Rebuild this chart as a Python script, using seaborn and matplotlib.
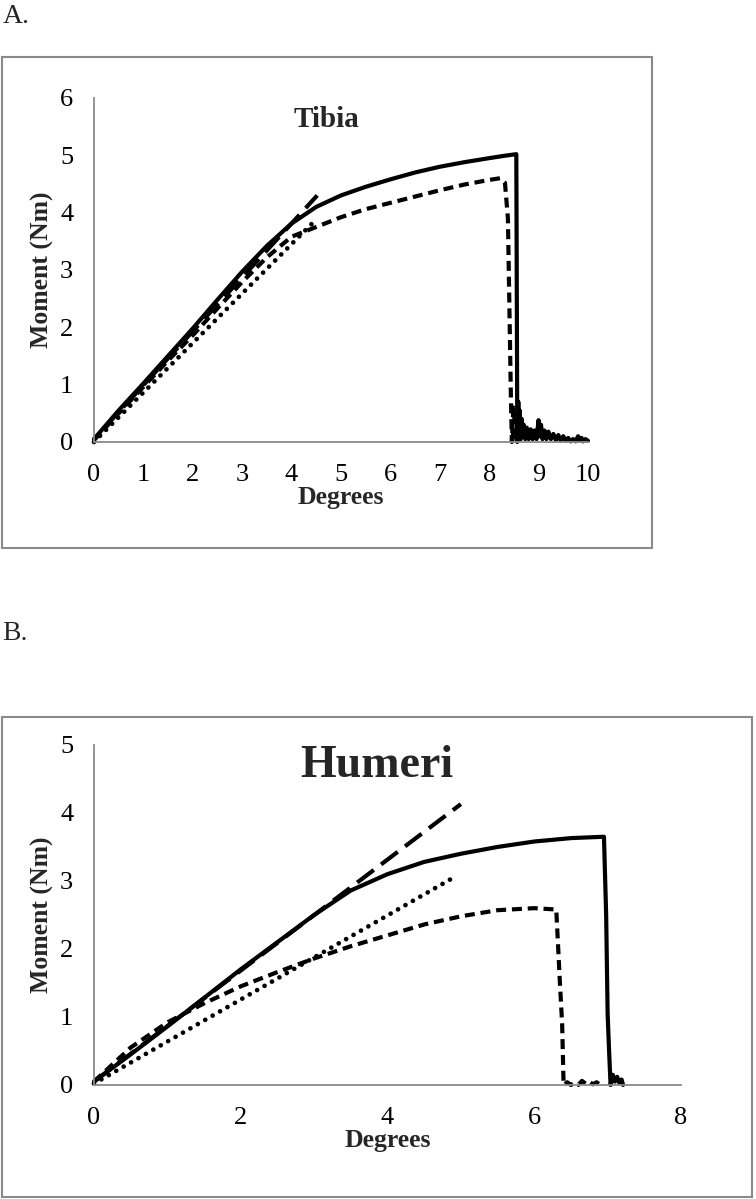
#!/usr/bin/env python3

import numpy as np
import matplotlib as mpl
mpl.use("Agg")
from matplotlib import pyplot as plt
from matplotlib.patches import Rectangle
import seaborn as sns
import pandas as pd

sns.set_theme(style="white")
plt.rcParams['font.family'] = ['Liberation Serif', 'DejaVu Serif']

# ---- Tibia ----
tib_solid_x = [0, 0.5, 1, 1.5, 2, 2.5, 3, 3.5, 4, 4.5, 5, 5.5, 6, 6.5, 7, 7.5, 8, 8.3, 8.55, 8.57,
               8.59, 8.61, 8.62, 8.64, 8.66, 8.68, 8.7, 8.73, 8.76, 8.8, 8.84, 8.88, 8.92, 8.96, 9.0,
               9.02, 9.05, 9.08, 9.12, 9.16, 9.2, 9.25, 9.3, 9.35, 9.4, 9.45, 9.5, 9.55, 9.6, 9.65,
               9.7, 9.75, 9.8, 9.83, 9.87, 9.9, 9.95, 10.0]
tib_solid_y = [0.05, 0.55, 1.02, 1.5, 1.98, 2.48, 2.97, 3.42, 3.81, 4.1, 4.3, 4.45, 4.58, 4.7, 4.8, 4.88, 4.95, 4.99, 5.02, 0.0,
               0.7, 0.1, 0.55, 0.05, 0.4, 0.1, 0.3, 0.05, 0.25, 0.05, 0.22, 0.05, 0.2, 0.05, 0.38,
               0.1, 0.3, 0.05, 0.2, 0.05, 0.18, 0.05, 0.14, 0.03, 0.12, 0.02, 0.1, 0.02, 0.07, 0.01,
               0.05, 0.01, 0.1, 0.02, 0.07, 0.01, 0.05, 0.02]
tib_dash_x = [0, 0.5, 1, 1.5, 2, 2.5, 3, 3.5, 4, 4.5, 5, 5.5, 6, 6.5, 7, 7.5, 8, 8.22, 8.32, 8.38, 8.44, 8.46,
              8.49, 8.52, 8.5, 8.48, 8.5, 8.53, 8.56]
tib_dash_y = [0.03, 0.5, 0.96, 1.42, 1.86, 2.33, 2.79, 3.22, 3.58, 3.75, 3.92, 4.06, 4.17, 4.28, 4.39, 4.49, 4.57, 4.6, 4.52, 3.9, 0.8, 0.0,
              0.6, 0.5, 0.3, 0.1, 0.0, 0.2, 0.0]
tib_fit_x = [0, 4.52]
tib_fit_y = [0.05, 4.3]
tib_dot_x = [0, 4.52]
tib_dot_y = [0.0, 3.9]

# ---- Humeri ----
hum_solid_x = [0, 0.5, 1, 1.5, 2, 2.5, 3, 3.5, 4, 4.5, 5, 5.5, 6, 6.5, 6.95, 6.98, 7.0, 7.02, 7.04,
               7.07, 7.1, 7.13, 7.16, 7.19, 7.21]
hum_solid_y = [0.05, 0.45, 0.86, 1.28, 1.7, 2.1, 2.5, 2.86, 3.1, 3.28, 3.4, 3.5, 3.58, 3.63, 3.65, 2.5, 1.05, 0.5, 0.0,
               0.15, 0.05, 0.12, 0.03, 0.08, 0.0]
hum_dash_x = [0, 0.5, 1, 1.5, 2, 2.5, 3, 3.5, 4, 4.5, 5, 5.5, 6, 6.3, 6.35, 6.38, 6.4,
              6.45, 6.5, 6.55, 6.6, 6.65, 6.7, 6.75, 6.8, 6.85, 6.9, 6.95]
hum_dash_y = [0.05, 0.55, 0.92, 1.2, 1.45, 1.66, 1.86, 2.04, 2.2, 2.36, 2.48, 2.57, 2.6, 2.58, 1.5, 0.9, 0.0,
              0.04, 0.0, 0.03, 0.0, 0.06, 0.02, 0.05, 0.01, 0.04, 0.0, 0.02]
hum_fit_x = [0, 5.0]
hum_fit_y = [0.05, 4.13]
hum_dot_x = [0, 4.9]
hum_dot_y = [0.02, 3.05]

grey = '#8a8a8a'

fig = plt.figure(figsize=(7.56, 11.99), dpi=100)
fig.patches.append(Rectangle((0.0026, 0.543), 0.86, 0.4095, transform=fig.transFigure,
                             fill=False, edgecolor=grey, lw=1.5))
fig.patches.append(Rectangle((0.0026, 0.0017), 0.992, 0.4003, transform=fig.transFigure,
                             fill=False, edgecolor=grey, lw=1.5))
fig.text(0.003, 0.981, 'A.', fontsize=20, va='baseline')
fig.text(0.003, 0.466, 'B.', fontsize=20, va='baseline')

axA = fig.add_axes([0.1243, 0.6314, 0.6534, 0.2869])
axB = fig.add_axes([0.1243, 0.0951, 0.7765, 0.2836])


def draw(ax, sx, sy, dx, dy, fx, fy, ox, oy, fit_offset):
    kw = dict(ax=ax, color='black', sort=False, estimator=None, clip_on=False, legend=False)
    sns.lineplot(x=ox, y=oy, lw=3.4, linestyle=(0, (0.01, 1.8)), dash_capstyle='round', **kw)
    sns.lineplot(x=fx, y=fy, lw=3.0, linestyle=(fit_offset, (5.0, 2.2)), **kw)
    sns.lineplot(x=dx, y=dy, lw=3.0, linestyle=(0, (2.4, 1.4)), **kw)
    sns.lineplot(x=sx, y=sy, lw=3.0, linestyle='-', **kw)


draw(axA, tib_solid_x, tib_solid_y, tib_dash_x, tib_dash_y, tib_fit_x, tib_fit_y, tib_dot_x, tib_dot_y, 4)
draw(axB, hum_solid_x, hum_solid_y, hum_dash_x, hum_dash_y, hum_fit_x, hum_fit_y, hum_dot_x, hum_dot_y, 0)

for ax, xmax, ymax, step in [(axA, 10, 6, 1), (axB, 8, 5, 2)]:
    ax.set_xlim(0, xmax)
    ax.set_ylim(0, ymax)
    ax.set_xticks(np.arange(0, xmax + 1, step))
    ax.set_yticks(np.arange(0, ymax + 1, 1))
    ax.set_facecolor('none')
    for s in ['top', 'right']:
        ax.spines[s].set_visible(False)
    for s in ['left', 'bottom']:
        ax.spines[s].set_color(grey)
        ax.spines[s].set_linewidth(1.3)
    ax.tick_params(axis='both', direction='out', length=5, width=1.3, color=grey,
                   labelsize=19, labelcolor='black')
    ax.tick_params(axis='x', pad=11)
    ax.tick_params(axis='y', pad=10)
    ax.set_xlabel('Degrees', fontsize=18.5, fontweight='bold', labelpad=0)
    ax.set_ylabel('Moment (Nm)', fontsize=18.5, fontweight='bold', labelpad=4)

axA.text(0.47, 0.938, 'Tibia', transform=axA.transAxes, ha='center', va='center',
         fontsize=21, fontweight='bold')
axB.text(0.482, 0.938, 'Humeri', transform=axB.transAxes, ha='center', va='center',
         fontsize=33, fontweight='bold')

fig.savefig('out.png', dpi=100)
